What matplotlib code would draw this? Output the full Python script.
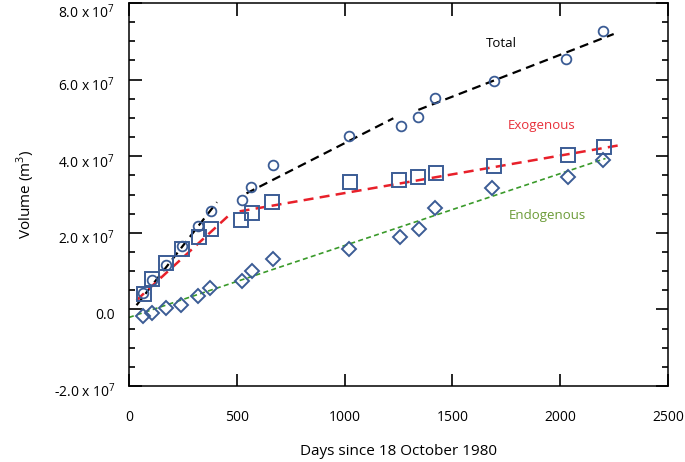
import numpy as np
import matplotlib
matplotlib.use("Agg")
import matplotlib.pyplot as plt
import matplotlib.transforms as mtransforms
from matplotlib.ticker import MultipleLocator, FixedLocator

plt.rcParams['font.family'] = ['Open Sans', 'DejaVu Sans']
plt.rcParams['mathtext.fontset'] = 'custom'
plt.rcParams['mathtext.rm'] = 'Open Sans'

# observations (days since 18 Oct 1980, volume in m^3)
days_total = [67, 108, 173, 244, 321, 380, 523, 568, 668, 1019, 1262, 1342, 1421, 1691, 2028, 2199]
vol_total = [4.2e6, 7.8e6, 11.6e6, 16.5e6, 21.9e6, 25.6e6, 28.5e6, 31.9e6, 37.8e6,
             45.3e6, 47.8e6, 50.3e6, 55.3e6, 59.6e6, 65.4e6, 72.7e6]

days_exo = [69, 108, 173, 244, 324, 380, 521, 572, 665, 1025, 1254, 1341, 1424, 1691, 2034, 2202]
vol_exo = [4.0e6, 8.0e6, 12.0e6, 15.9e6, 18.8e6, 20.9e6, 23.3e6, 25.2e6, 28.0e6,
           33.3e6, 33.8e6, 34.6e6, 35.7e6, 37.5e6, 40.2e6, 42.5e6]

days_endo = [64, 108, 170, 241, 321, 374, 526, 569, 668, 1021, 1257, 1344, 1421, 1685, 2034, 2199]
vol_endo = [-1.6e6, -0.9e6, 0.3e6, 1.2e6, 3.5e6, 5.7e6, 7.5e6, 10.1e6, 13.1e6,
            15.8e6, 18.9e6, 21.1e6, 26.5e6, 31.8e6, 34.6e6, 38.9e6]

# fitted trend segments
total_fits = [([35, 408], [1.1e6, 28.0e6]),
              ([545, 1226], [30.3e6, 49.9e6]),
              ([1342, 2248], [52.1e6, 71.9e6])]
exo_fits = [([35, 464], [2.4e6, 24.6e6]),
            ([513, 2279], [25.6e6, 42.9e6])]
endo_fit = ([0, 2210], [-2.1e6, 39.4e6])

yticks = [-2e7, 0, 2e7, 4e7, 6e7, 8e7]
ytick_labels = ['-2.0 x 10$^{7}$', '0.0', '2.0 x 10$^{7}$', '4.0 x 10$^{7}$',
                '6.0 x 10$^{7}$', '8.0 x 10$^{7}$']

mk = '#3B5C95'

fig = plt.figure(figsize=(6.85, 4.62), dpi=100)
ax = fig.add_axes([0.1883, 0.1645, 0.7869, 0.829])

for x, y in total_fits:
    ax.plot(x, y, color='black', lw=1.6, dashes=(4, 2.5))
for x, y in exo_fits:
    ax.plot(x, y, color='#E8202A', lw=1.8, dashes=(4, 2.5))
ax.plot(endo_fit[0], endo_fit[1], color='#3A9A2A', lw=1.2, dashes=(3, 2))

ax.plot(days_total, vol_total, 'o', ms=7, mfc='none', mec=mk, mew=1.3)
ax.plot(days_exo, vol_exo, 's', ms=9.5, mfc='none', mec=mk, mew=1.4)
ax.plot(days_endo, vol_endo, 'D', ms=7.5, mfc='none', mec=mk, mew=1.4)

ax.text(1725, 69.5e6, 'Total', fontsize=9.5, color='black', ha='center', va='center')
ax.text(1915, 47.9e6, 'Exogenous', fontsize=9.5, color='#E8303A', ha='center', va='center')
ax.text(1939, 24.6e6, 'Endogenous', fontsize=9.5, color='#6B9B37', ha='center', va='center')

ax.set_xlim(0, 2500)
ax.set_ylim(-2e7, 8e7)
ax.xaxis.set_major_locator(MultipleLocator(500))
ax.yaxis.set_major_locator(FixedLocator(yticks))
ax.set_yticklabels(ytick_labels)
ax.yaxis.set_minor_locator(MultipleLocator(5e6))

ax.tick_params(which='both', direction='in', top=True, right=True, width=1.2, labelsize=10)
ax.tick_params(axis='x', which='major', length=9, pad=17)
ax.tick_params(axis='y', which='major', length=9, pad=10)
ax.tick_params(axis='y', which='minor', length=4.5)
for s in ax.spines.values():
    s.set_linewidth(1.1)

# the y tick labels sit a little below their ticks in the original
labs = ax.get_yticklabels()
for i, lab in enumerate(labs):
    dy = -5.5 if i == len(labs) - 1 else -3
    shift = mtransforms.ScaledTranslation(0, dy / 72, fig.dpi_scale_trans)
    lab.set_transform(lab.get_transform() + shift)

ax.set_xlabel('Days since 18 October 1980', fontsize=11, labelpad=14)
ax.set_ylabel('Volume (m$^{3}$)', fontsize=11, labelpad=12)

fig.savefig('out.png', dpi=100)
